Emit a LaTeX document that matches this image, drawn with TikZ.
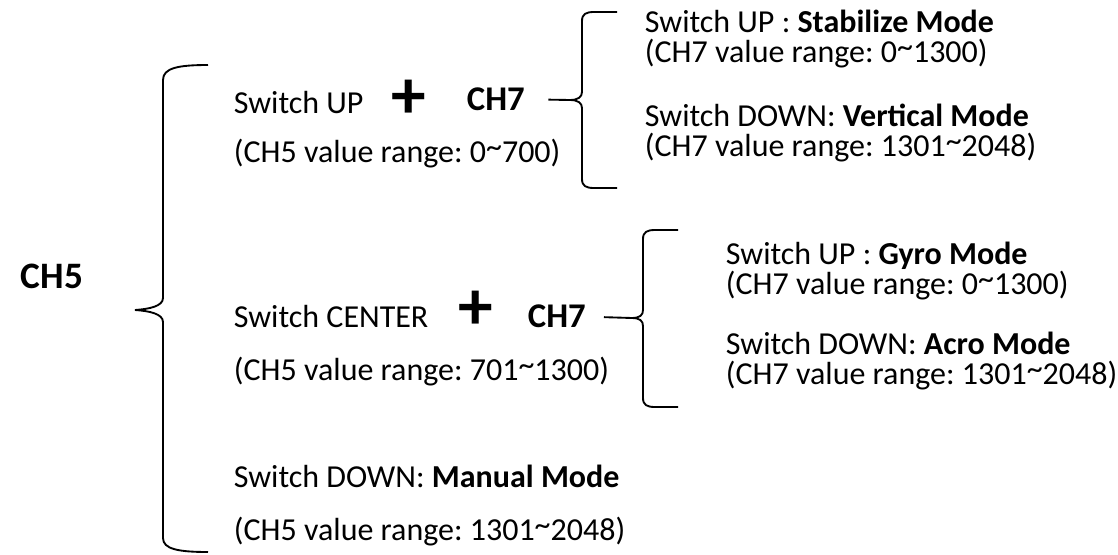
\documentclass[tikz,border=0pt]{standalone}
\usepackage{fontspec}
\setmainfont{Carlito}
\usetikzlibrary{positioning}
\frenchspacing
\newcommand{\tld}{\raisebox{0.3ex}{\textasciitilde}}

\begin{document}
\begin{tikzpicture}[x=0.75pt,y=-0.75pt,line width=1.4pt,
                    txt/.style={anchor=base west,inner sep=0pt,font=\fontsize{24}{28}\selectfont},
                    chan/.style={txt,font=\fontsize{26}{30}\selectfont\bfseries},
                    plus/.style={inner sep=0pt,font=\fontsize{52}{52}\selectfont\bfseries}]

  \useasboundingbox (0,0) rectangle (1118,554);

  % left column
  \node[chan,font=\fontsize{28}{32}\selectfont\bfseries] (ch5) at (20,288) {CH5};
  \node[txt]  (up)  at (233,113) {Switch UP};
  \node[plus] (p1)  at (409,99) {+};
  \node[chan] (c7a) at (466,110) {CH7};
  \node[txt]  (r1)  at (233,162) {(CH5 value range: 0\tld700)};
  \node[txt]  (ctr) at (233,327) {Switch CENTER};
  \node[plus] (p2)  at (476,310) {+};
  \node[chan] (c7b) at (527,327) {CH7};
  \node[txt]  (r2)  at (233,380) {(CH5 value range: 701\tld1300)};
  \node[txt]  (dn)  at (233,487) {Switch DOWN: \textbf{Manual Mode}};
  \node[txt]  (r3)  at (233,540) {(CH5 value range: 1301\tld2048)};

  % right column, upper
  \node[txt] (stab)  at (644,32)  {Switch UP : \textbf{Stabilize Mode}};
  \node[txt] (stabr) at (644,62)  {(CH7 value range: 0\tld1300)};
  \node[txt] (vert)  at (644,126) {Switch DOWN: \textbf{Vertical Mode}};
  \node[txt] (vertr) at (644,156) {(CH7 value range: 1301\tld2048)};

  % right column, lower
  \node[txt] (gyro)  at (725,264) {Switch UP : \textbf{Gyro Mode}};
  \node[txt] (gyror) at (725,294) {(CH7 value range: 0\tld1300)};
  \node[txt] (acro)  at (725,354) {Switch DOWN: \textbf{Acro Mode}};
  \node[txt] (acror) at (725,384) {(CH7 value range: 1301\tld2048)};

  % brace tips
  \coordinate (t0) at (135,310);
  \coordinate (t1) at (570,100);
  \coordinate (t2) at (632,318);

  % big brace
  \draw (208,65) .. controls (178,65) and (163,68) .. (163,80) -- (163,298)
        .. controls (163,306) and (150,309) .. (t0)
        .. controls (150,311) and (163,314) .. (163,322) -- (163,538)
        .. controls (163,549) and (178,552) .. (208,552);

  % upper brace
  \draw (617,12) -- (594,12) .. controls (586,12) and (582,14) .. (582,21) -- (582,92)
        .. controls (582,97) and (578,100) .. (t1)
        .. controls (578,100) and (582,103) .. (582,108) -- (582,179)
        .. controls (582,186) and (586,188) .. (594,188) -- (617,188);

  % lower brace
  \draw (678,230) -- (655,230) .. controls (647,230) and (643,232) .. (643,239) -- (643,310)
        .. controls (643,315) and (640,318) .. (t2)
        .. controls (640,318) and (643,321) .. (643,326) -- (643,398)
        .. controls (643,405) and (647,407) .. (655,407) -- (678,407);

  % connectors
  \draw[shorten <=17pt] (c7a) -- (t1);
  \draw[shorten <=13pt] (c7b) -- (t2);
\end{tikzpicture}
\end{document}
